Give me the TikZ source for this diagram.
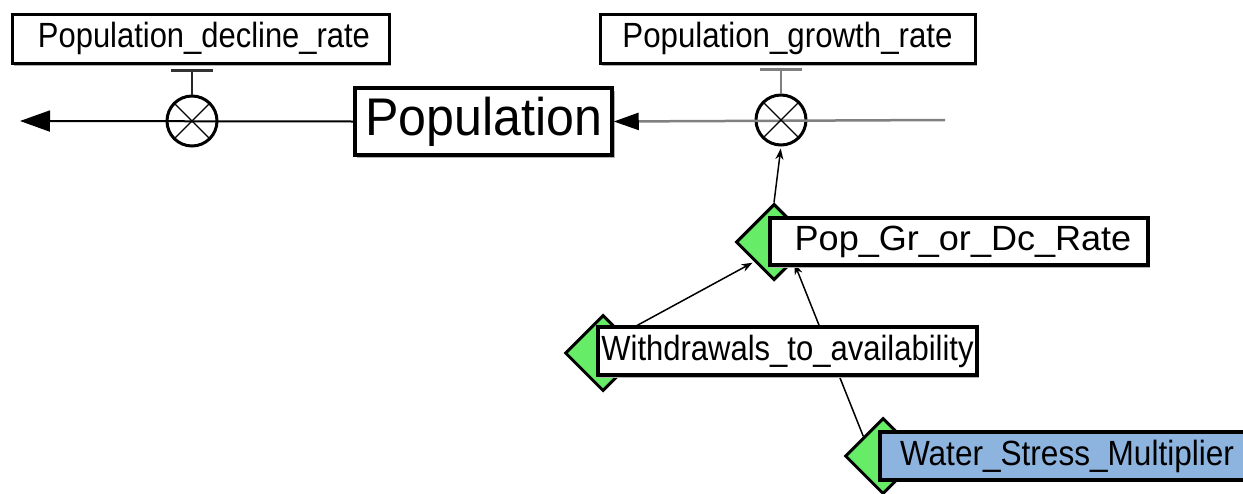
\documentclass[tikz,border=0pt]{standalone}
\usepackage{fontspec}
\setmainfont{Liberation Sans}
\usetikzlibrary{arrows.meta,shapes.geometric}
\definecolor{auxgreen}{RGB}{102,236,102}
\definecolor{constblue}{RGB}{141,180,222}
\definecolor{flowgray}{RGB}{128,128,128}
\newcommand{\wide}[2]{\scalebox{#1}[1]{#2}}
\begin{document}
\begin{tikzpicture}[x=1pt,y=-1pt,
  lbl/.style={font=\fontsize{35}{35}\selectfont},
  stockbox/.style={draw=black, line width=3.5pt, fill=white, inner sep=0pt,
    font=\fontsize{53}{53}\selectfont},
  namebox/.style={draw=black, line width=3pt, fill=white, inner sep=0pt, lbl},
  auxbox/.style={draw=black, line width=3.5pt, fill=white, inner sep=0pt, lbl},
  auxdiamond/.style={diamond, draw=black, line width=3pt, fill=auxgreen,
    minimum width=76pt, minimum height=76pt, inner sep=0pt},
  valve/.style={circle, draw=black, line width=3pt, minimum size=50pt, inner sep=0pt},
  crossline/.style={line width=1.2pt},
  shadowbox/.style={fill=black!30, draw=none},
  link/.style={line width=1.5pt, -{Stealth[length=11pt,width=8pt]}, shorten >=2pt},
]
\useasboundingbox (0,0) rectangle (1243,493);

% ---- flow endpoints and valve positions
\coordinate (declineEnd) at (20,121);
\coordinate (growthSrc) at (945,120);
\coordinate (dvBar) at (192,70);
\coordinate (gvBar) at (781,69);

% ---- connectors (drawn first, boxes cover them)
\node[auxdiamond] (pgrd) at (774,242) {};
\node[auxdiamond] (wtad) at (603,353) {};
\node[auxdiamond] (wsmd) at (883,456) {};
\draw[link] (wtad.north east) -- (pgrd.south west);
\draw[link] (wsmd.north west) -- (pgrd.south east);

% ---- stock
\fill[shadowbox] (357,91) rectangle (615,158);
\node[stockbox, minimum width=257pt, minimum height=67pt] (pop) at (483.5,121.5) {\wide{0.946}{Population}};

% ---- outflow: Population -> sink on the left
\node[valve] (dv) at (192,121) {};
\draw[line width=2pt, -{Triangle[length=30pt,width=21pt]}] (pop.west) -- (declineEnd);
\draw[crossline] (dv.north west) -- (dv.south east) (dv.north east) -- (dv.south west);
\draw[line width=2.5pt, black!85] (dv.north) -- (dvBar);
\draw[line width=3pt, black!80] ([xshift=-21pt]dvBar) -- ([xshift=21pt]dvBar);

% ---- inflow: source on the right -> Population
\node[valve] (gv) at (781,120) {};
\draw[line width=2.5pt, flowgray, -{Triangle[length=25pt,width=17pt,color=black]}] (growthSrc) -- (pop.east);
\draw[crossline] (gv.north west) -- (gv.south east) (gv.north east) -- (gv.south west);
\draw[line width=2pt, flowgray] (gv.north) -- (gvBar);
\draw[line width=3pt, flowgray] ([xshift=-21pt]gvBar) -- ([xshift=21pt]gvBar);
\draw[link] (pgrd.north) -- (gv.south);

% ---- flow name boxes
\fill[shadowbox] (14,17) rectangle (391,66);
\node[namebox, minimum width=377pt, minimum height=49pt] (decl) at (200.5,38.5) {\hspace*{7pt}\wide{0.884}{Population\_decline\_rate}};
\fill[shadowbox] (602,17) rectangle (977,66);
\node[namebox, minimum width=375pt, minimum height=49pt] (grow) at (787.5,38.5) {\wide{0.893}{Population\_growth\_rate}};

% ---- auxiliary name boxes (partly over their diamonds)
\node[auxdiamond] at (pgrd) {};
\fill[shadowbox] (772,221) rectangle (1150,268);
\node[auxbox, minimum width=378pt, minimum height=47pt] (pgr) at (959,241.5) {\hspace*{8pt}\wide{1.03}{Pop\_Gr\_or\_Dc\_Rate}};

\fill[shadowbox] (600,330) rectangle (979,378);
\node[auxbox, minimum width=379pt, minimum height=48pt] (wta) at (787.5,351) {\wide{0.886}{Withdrawals\_to\_availability}};

\node[auxbox, fill=constblue, minimum width=365pt, minimum height=48pt] (wsm) at (1062.5,456) {\hspace*{9pt}\wide{0.902}{Water\_Stress\_Multiplier}};
\end{tikzpicture}
\end{document}
